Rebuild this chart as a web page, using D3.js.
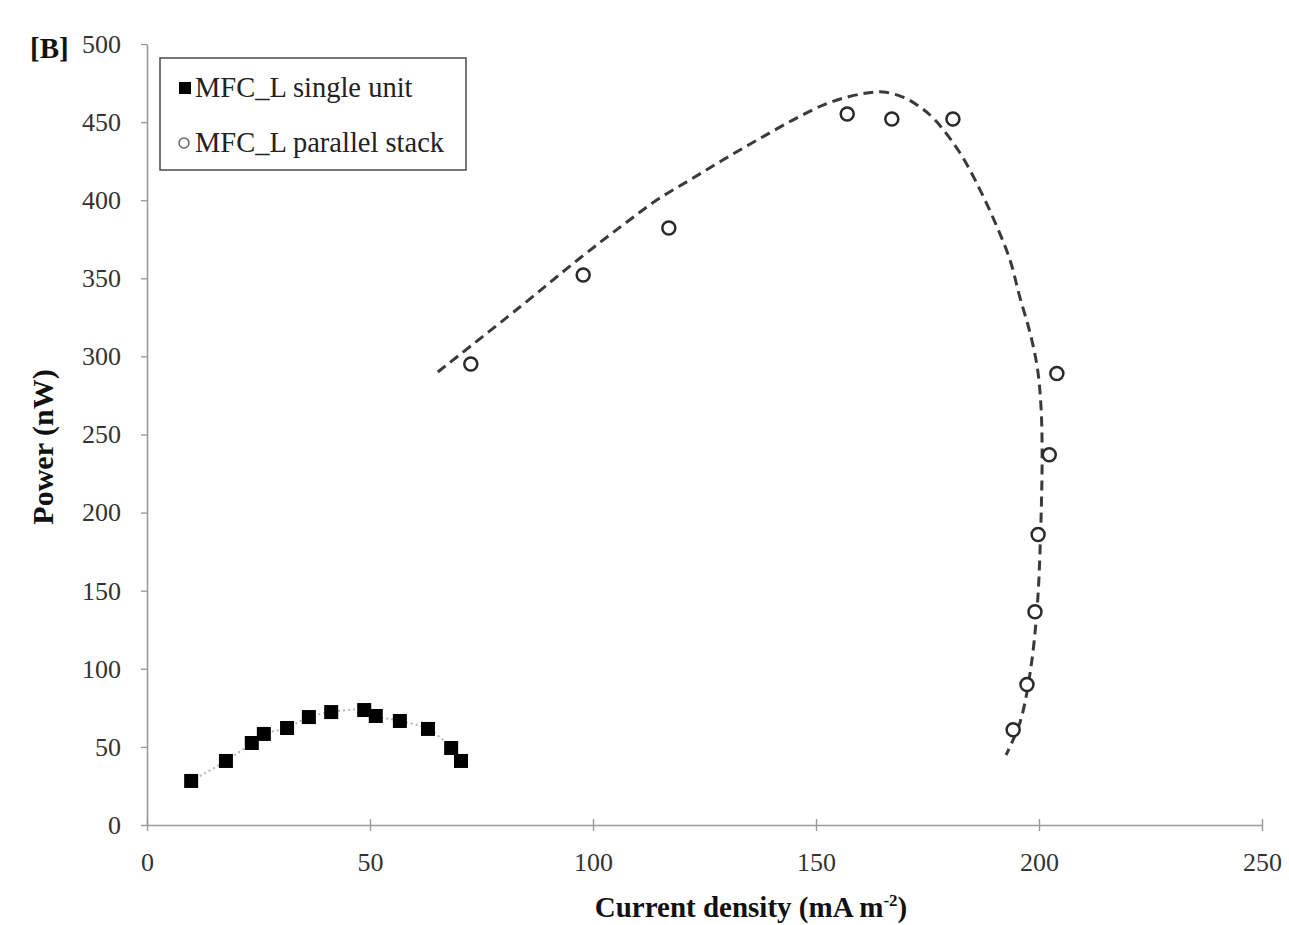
<!DOCTYPE html>
<html>
<head>
<meta charset="utf-8">
<script src="https://cdnjs.cloudflare.com/ajax/libs/d3/7.8.5/d3.min.js"></script>
<style>
  html, body { margin: 0; padding: 0; background: #fff; }
  svg { display: block; }
</style>
</head>
<body>
<script>
// ---- Data ----
const singleX = [9.9, 17.7, 23.5, 26.2, 31.4, 36.3, 41.3, 48.7, 51.3, 56.7, 63.0, 68.2, 70.4];
const singleY = [28.2, 41.0, 52.5, 58.3, 62.1, 69.1, 72.3, 73.6, 69.8, 66.6, 61.5, 49.3, 41.0];

const stackX = [72.6, 97.8, 117.0, 157.0, 167.0, 180.7, 204.0, 202.3, 199.8, 199.1, 197.3, 194.2];
const stackY = [295.1, 352.1, 382.2, 455.2, 452.0, 452.0, 289.0, 237.0, 186.0, 136.5, 90.0, 61.0];

// dashed trend curve for parallel stack
const trendX = [65.2, 83.6, 97.1, 106.7, 114.3, 121.7, 129.1, 136.8, 144.8, 151.6, 157.0, 161.4, 165.0, 169.5, 173.3, 176.7, 182.3, 186.8, 190.6, 193.5, 195.7, 198.0, 199.6, 200.4, 200.7, 200.4, 199.6, 198.0, 195.7, 192.6];
const trendY = [290.0, 331.6, 363.0, 384.1, 400.1, 412.9, 425.7, 438.5, 451.3, 460.9, 466.0, 468.6, 469.3, 466.0, 459.7, 451.3, 430.2, 406.5, 382.8, 361.7, 338.0, 315.0, 293.2, 270.0, 240.0, 190.8, 139.6, 97.3, 65.3, 44.8];

const xTicks = [0, 50, 100, 150, 200, 250];
const yTicks = [0, 50, 100, 150, 200, 250, 300, 350, 400, 450, 500];
const legendLabels = ["MFC_L single unit", "MFC_L parallel stack"];
const panelLabel = "[B]";
const xTitle = "Current density (mA m";
const yTitle = "Power (nW)";

// ---- Layout ----
const W = 1289, H = 925;
const svg = d3.select("body").append("svg").attr("width", W).attr("height", H);
const x = d3.scaleLinear().domain([0, 250]).range([147, 1262]);
const y = d3.scaleLinear().domain([0, 500]).range([825, 44]);
const serif = "'Liberation Serif', 'Times New Roman', serif";
const axisColor = "#9a9a9a";

// axes
const xAxis = svg.append("g").attr("transform", `translate(0,${y(0)})`)
  .call(d3.axisBottom(x).tickValues(xTicks).tickSize(6).tickSizeOuter(0).tickPadding(22));
const yAxis = svg.append("g").attr("transform", `translate(${x(0)},0)`)
  .call(d3.axisLeft(y).tickValues(yTicks).tickSize(6).tickSizeOuter(0).tickPadding(20));
[xAxis, yAxis].forEach(g => {
  g.select(".domain").attr("stroke", axisColor).attr("stroke-width", 1.6);
  g.selectAll(".tick line").attr("stroke", axisColor).attr("stroke-width", 1.4);
  g.selectAll(".tick text").attr("font-family", serif).attr("font-size", 26).attr("fill", "#333");
});
xAxis.selectAll(".tick line").attr("y1", -6);

const curve = d3.curveCatmullRom.alpha(0.5);

// single-unit faint dotted trend
const pts1 = singleX.map((v, i) => [v, singleY[i]]);
svg.append("path").datum(pts1)
  .attr("d", d3.line().x(d => x(d[0])).y(d => y(d[1])).curve(curve))
  .attr("fill", "none").attr("stroke", "#b5b5b5").attr("stroke-width", 2)
  .attr("stroke-dasharray", "2,3");

// parallel-stack dashed trend
const ptsT = trendX.map((v, i) => [v, trendY[i]]);
svg.append("path").datum(ptsT)
  .attr("d", d3.line().x(d => x(d[0])).y(d => y(d[1])).curve(curve))
  .attr("fill", "none").attr("stroke", "#3a3a3a").attr("stroke-width", 3)
  .attr("stroke-dasharray", "10,6");

// single-unit squares
svg.append("g").selectAll("rect").data(pts1).join("rect")
  .attr("x", d => x(d[0]) - 7).attr("y", d => y(d[1]) - 7)
  .attr("width", 14).attr("height", 14).attr("fill", "#000");

// parallel-stack circles
const pts2 = stackX.map((v, i) => [v, stackY[i]]);
svg.append("g").selectAll("circle").data(pts2).join("circle")
  .attr("cx", d => x(d[0])).attr("cy", d => y(d[1])).attr("r", 6.5)
  .attr("fill", "#fff").attr("stroke", "#2a2a2a").attr("stroke-width", 2.5);

// legend
const lg = svg.append("g");
lg.append("rect").attr("x", 160).attr("y", 58).attr("width", 306).attr("height", 112)
  .attr("fill", "#fff").attr("stroke", "#555").attr("stroke-width", 1.6);
lg.append("rect").attr("x", 179).attr("y", 82).attr("width", 12).attr("height", 12).attr("fill", "#000");
lg.append("circle").attr("cx", 184).attr("cy", 143).attr("r", 5).attr("fill", "#fff")
  .attr("stroke", "#666").attr("stroke-width", 1.5);
lg.selectAll("text").data(legendLabels).join("text")
  .attr("x", 195).attr("y", (d, i) => 97 + i * 55)
  .attr("font-family", serif).attr("font-size", 28.5).attr("fill", "#222")
  .text(d => d);

// panel label
svg.append("text").attr("x", 30).attr("y", 58).attr("font-family", serif)
  .attr("font-weight", "bold").attr("font-size", 29).attr("fill", "#111").text(panelLabel);

// axis titles
const xt = svg.append("text").attr("x", 751).attr("y", 917).attr("text-anchor", "middle")
  .attr("font-family", serif).attr("font-weight", "bold").attr("font-size", 29).attr("fill", "#111");
xt.append("tspan").text(xTitle);
xt.append("tspan").attr("font-size", 17).attr("dy", -11).text("-2");
xt.append("tspan").attr("dy", 11).text(")");

svg.append("text").attr("transform", "translate(53,447) rotate(-90)")
  .attr("text-anchor", "middle").attr("font-family", serif).attr("font-weight", "bold")
  .attr("font-size", 30).attr("fill", "#111").text(yTitle);
</script>
</body>
</html>
